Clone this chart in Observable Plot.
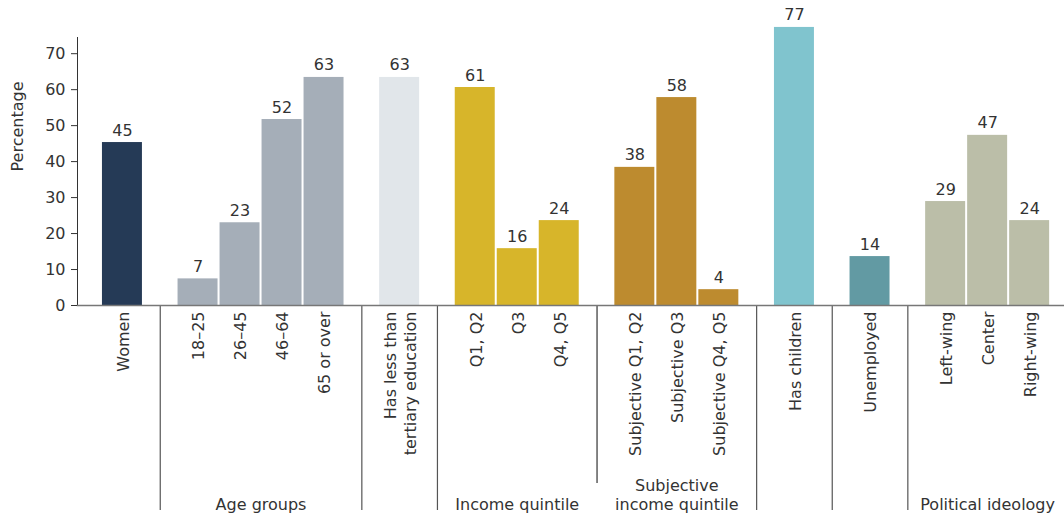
<!DOCTYPE html>
<html><head><meta charset="utf-8">
<script src="https://cdn.jsdelivr.net/npm/d3@7"></script>
<script src="https://cdn.jsdelivr.net/npm/@observablehq/plot@0.6"></script>
<style>body{margin:0;background:#fff}</style>
</head><body><div id="chart"></div>
<script>
const categories = ["Women","18–25","26–45","46–64","65 or over","Has less than\ntertiary education","Q1, Q2","Q3","Q4, Q5","Subjective Q1, Q2","Subjective Q3","Subjective Q4, Q5","Has children","Unemployed","Left-wing","Center","Right-wing"];
const values = [45.3, 7.4, 23.0, 51.7, 63.4, 63.4, 60.6, 15.8, 23.6, 38.4, 57.8, 4.4, 77.3, 13.6, 28.9, 47.3, 23.6];
const groupIndex = [0,1,1,1,1,2,3,3,3,4,4,4,5,6,7,7,7];
const groupNames = ["", "Age groups", "", "Income quintile", "Subjective\nincome quintile", "", "", "Political ideology"];
const groupColors = ["#253a56","#a5aeb8","#e1e6ea","#d7b52a","#bd8b2f","#80c4ce","#629aa3","#bbbea8"];
const yTicks = [0,10,20,30,40,50,60,70];

const GAP = 0.8, HALF = 0.476;
const data = categories.map((c,i)=>({category:c, value:values[i], group:groupIndex[i], pos:i + GAP*groupIndex[i]}));
const groups = groupNames.map((name,g)=>{
  const m = data.filter(d=>d.group===g);
  return {name, center:d3.mean(m,d=>d.pos), first:m[0].pos, last:m[m.length-1].pos};
});
const separators = groups.slice(1).map((g,i)=>({x:(groups[i].last + g.first)/2, twoLine:g.name.includes("\n")}));

const plot = Plot.plot({
  width:1064, height:517,
  marginLeft:77, marginRight:0, marginTop:37, marginBottom:212,
  style:{fontFamily:"DejaVu Sans", fontSize:"16px", color:"#333", background:"#fff", overflow:"visible"},
  x:{type:"linear", domain:[-1.07, d3.max(data,d=>d.pos)+0.83], axis:null},
  y:{domain:[0,74.5], axis:null},
  marks:[
    Plot.rectY(data,{x1:d=>d.pos-HALF, x2:d=>d.pos+HALF, y:"value", fill:d=>groupColors[d.group]}),
    Plot.ruleX(separators.filter(s=>!s.twoLine),{x:"x", insetTop:268, insetBottom:-205, stroke:"#555", strokeWidth:1.2}),
    Plot.ruleX(separators.filter(s=>s.twoLine),{x:"x", insetTop:268, insetBottom:-178, stroke:"#333", strokeWidth:1.2}),
    Plot.frame({anchor:"left", stroke:"#333"}),
    Plot.frame({anchor:"bottom", stroke:"#777", strokeWidth:1.5}),
    Plot.axisY({ticks:yTicks, tickSize:6, tickPadding:6, label:null, stroke:"#333"}),
    Plot.text(data,{x:"pos", y:"value", text:d=>String(Math.round(d.value)), lineAnchor:"bottom", dy:-7, fill:"#333"}),
    Plot.text(data,{x:"pos", frameAnchor:"bottom", text:"category", rotate:-90, textAnchor:"end", lineAnchor:"middle", dy:6, lineHeight:1.25, fill:"#333"}),
    Plot.text(groups,{x:"center", frameAnchor:"bottom", text:"name", lineAnchor:"bottom", dy:204, lineHeight:1.15, fill:"#333"}),
    Plot.text(["Percentage"],{frameAnchor:"left", rotate:-90, dx:-60, text:d=>d, fill:"#333"})
  ]
});
document.getElementById("chart").append(plot);
</script>
</body></html>
